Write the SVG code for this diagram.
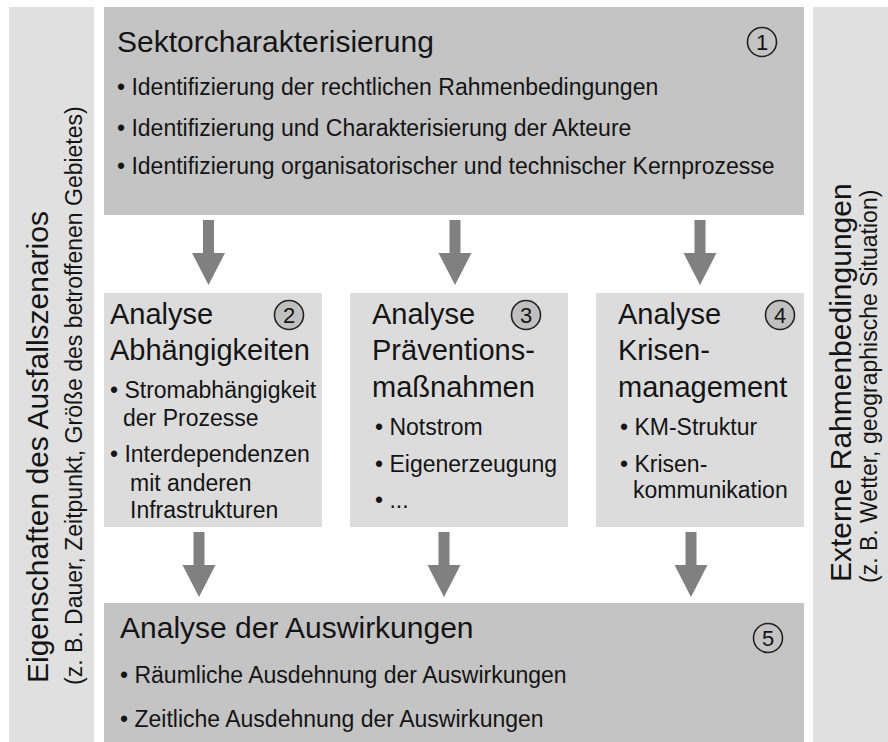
<svg xmlns="http://www.w3.org/2000/svg" width="888" height="742" viewBox="0 0 888 742">
  <style>
    text { font-family: "Liberation Sans", Arial, sans-serif; fill: #141414; }
    .band { fill: #e0e0e0; }
    .dark { fill: #c4c4c4; }
    .light { fill: #dcdcdc; }
    .title { font-size: 30px; }
    .sub { font-size: 29px; }
    .item { font-size: 23px; }
    .side { font-size: 30px; }
    .side-small { font-size: 23px; }
    .num circle { stroke: #222; stroke-width: 1.6; }
    .num text { font-size: 22px; text-anchor: middle; }
    .arrow { fill: #808080; }
  </style>
  <defs>
    <!-- block arrow pointing down, tip at origin -->
    <polygon id="down" class="arrow" points="-5.5,-65 5.5,-65 5.5,-32 16.5,-32 0,0 -16.5,-32 -5.5,-32"/>
  </defs>

  <rect width="888" height="742" fill="#ffffff"/>

  <!-- side bands -->
  <g id="side-left">
    <rect class="band" x="9" y="7" width="85" height="735"/>
    <text class="side" transform="translate(48,683) rotate(-90)">Eigenschaften des Ausfallszenarios</text>
    <text class="side-small" transform="translate(82,685) rotate(-90)">(z. B. Dauer, Zeitpunkt, Größe des betroffenen Gebietes)</text>
  </g>
  <g id="side-right">
    <rect class="band" x="813" y="7" width="75" height="735"/>
    <text class="side" transform="translate(851,582) rotate(-90)">Externe Rahmenbedingungen</text>
    <text class="side-small" transform="translate(877,583) rotate(-90)">(z. B. Wetter, geographische Situation)</text>
  </g>

  <!-- 1 -->
  <g id="sektor">
    <rect class="dark" x="104" y="7" width="700" height="208"/>
    <text class="title" x="117" y="52">Sektorcharakterisierung</text>
    <text class="item" x="117" y="95">• Identifizierung der rechtlichen Rahmenbedingungen</text>
    <text class="item" x="117" y="136">• Identifizierung und Charakterisierung der Akteure</text>
    <text class="item" x="117" y="174">• Identifizierung organisatorischer und technischer Kernprozesse</text>
    <g class="num"><circle cx="762" cy="42" r="14.5" fill="#c4c4c4"/><text x="762" y="50">1</text></g>
  </g>

  <!-- 2 -->
  <g id="abhaengigkeiten">
    <rect class="light" x="104" y="293" width="218" height="234"/>
    <text class="sub" x="110" y="324">Analyse</text>
    <text class="sub" x="110" y="360">Abhängigkeiten</text>
    <text class="item" x="110" y="398">• Stromabhängigkeit</text>
    <text class="item" x="123" y="426">der Prozesse</text>
    <text class="item" x="110" y="462">• Interdependenzen</text>
    <text class="item" x="130" y="491">mit anderen</text>
    <text class="item" x="130" y="518">Infrastrukturen</text>
    <g class="num"><circle cx="289" cy="315" r="14.5" fill="#c0c0c0"/><text x="289" y="323">2</text></g>
  </g>

  <!-- 3 -->
  <g id="praevention">
    <rect class="light" x="350" y="293" width="218" height="234"/>
    <text class="sub" x="372" y="324">Analyse</text>
    <text class="sub" x="372" y="360">Präventions-</text>
    <text class="sub" x="372" y="397">maßnahmen</text>
    <text class="item" x="375" y="435">• Notstrom</text>
    <text class="item" x="375" y="472">• Eigenerzeugung</text>
    <text class="item" x="375" y="508">• ...</text>
    <g class="num"><circle cx="526" cy="315" r="14.5" fill="#c0c0c0"/><text x="526" y="323">3</text></g>
  </g>

  <!-- 4 -->
  <g id="krisenmanagement">
    <rect class="light" x="596" y="293" width="208" height="234"/>
    <text class="sub" x="618" y="324">Analyse</text>
    <text class="sub" x="618" y="360">Krisen-</text>
    <text class="sub" x="618" y="397">management</text>
    <text class="item" x="620" y="435">• KM-Struktur</text>
    <text class="item" x="620" y="472">• Krisen-</text>
    <text class="item" x="633" y="498">kommunikation</text>
    <g class="num"><circle cx="780" cy="315" r="14.5" fill="#c0c0c0"/><text x="780" y="323">4</text></g>
  </g>

  <!-- 5 -->
  <g id="auswirkungen">
    <rect class="dark" x="104" y="603" width="700" height="139"/>
    <text class="title" x="120" y="638">Analyse der Auswirkungen</text>
    <text class="item" x="120" y="683">• Räumliche Ausdehnung der Auswirkungen</text>
    <text class="item" x="120" y="727">• Zeitliche Ausdehnung der Auswirkungen</text>
    <g class="num"><circle cx="768" cy="638" r="14.5" fill="#c4c4c4"/><text x="768" y="646">5</text></g>
  </g>

  <!-- connectors -->
  <g id="connectors">
    <use href="#down" x="208.5" y="285"/>
    <use href="#down" x="455" y="285"/>
    <use href="#down" x="700" y="285"/>
    <use href="#down" x="199" y="597"/>
    <use href="#down" x="444" y="597"/>
    <use href="#down" x="691" y="597"/>
  </g>
</svg>
